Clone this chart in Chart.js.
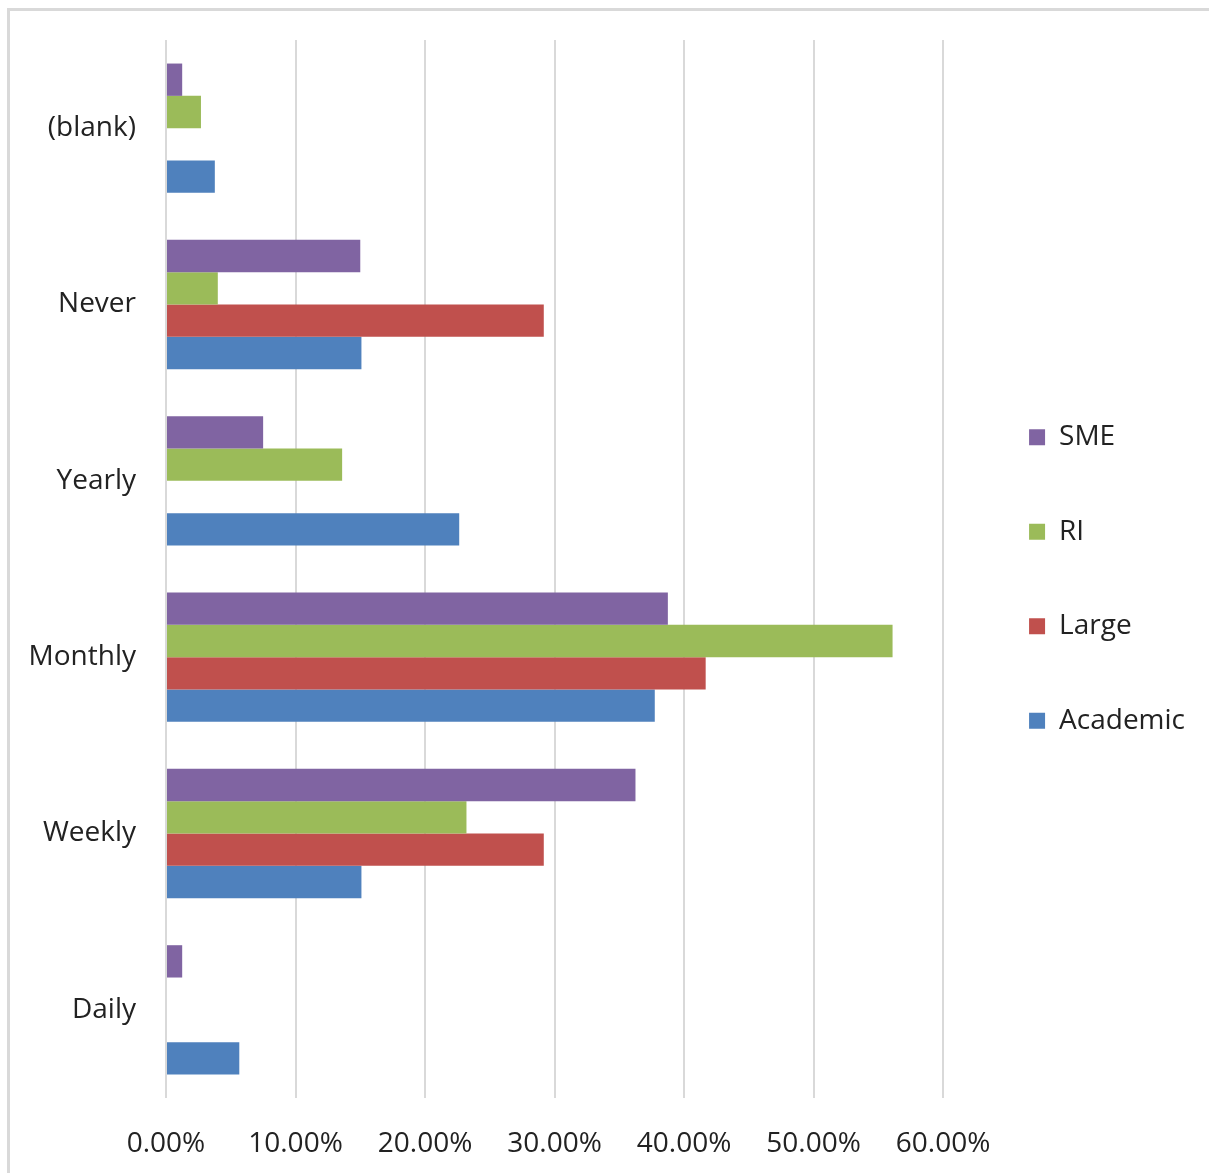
<!DOCTYPE html>
<html>
<head>
<meta charset="utf-8">
<script src="https://cdn.jsdelivr.net/npm/chart.js@4"></script>
<style>
  html, body { margin: 0; padding: 0; background: #fff; overflow: hidden; }
  #frame { position: absolute; left: 7px; top: 8px; width: 2000px; height: 2000px; border: 3px solid #d9d9d9; }
  #wrap { position: absolute; left: 0; top: 0; width: 1209px; height: 1173px; }
</style>
</head>
<body>
<div id="frame"></div>
<div id="wrap"><canvas id="chart"></canvas></div>
<script>
  const categories = ['(blank)', 'Never', 'Yearly', 'Monthly', 'Weekly', 'Daily'];
  const sme = [1.25, 15.0, 7.5, 38.75, 36.25, 1.25];
  const ri = [2.7, 4.0, 13.6, 56.1, 23.2, 0];
  const large = [0, 29.17, 0, 41.67, 29.17, 0];
  const academic = [3.77, 15.09, 22.64, 37.74, 15.09, 5.66];
  const xTicks = [0, 10, 20, 30, 40, 50, 60];

  const font = { family: '"Open Sans", sans-serif', size: 28 };
  const textColor = '#222';

  const ctx = document.getElementById('chart').getContext('2d');
  new Chart(ctx, {
      type: 'bar',
      data: {
          labels: categories,
          datasets: [
              { label: 'SME', data: sme, backgroundColor: '#8064A2' },
              { label: 'RI', data: ri, backgroundColor: '#9BBB59' },
              { label: 'Large', data: large, backgroundColor: '#C0504D' },
              { label: 'Academic', data: academic, backgroundColor: '#4F81BD' }
          ]
      },
      options: {
          indexAxis: 'y',
          responsive: true,
          maintainAspectRatio: false,
          animation: false,
          categoryPercentage: 0.733,
          barPercentage: 1,
          layout: { padding: { left: 0, top: 40, bottom: 15, right: 14 } },
          plugins: {
              legend: {
                  position: 'right',
                  fullSize: false,
                  maxWidth: 300,
                  title: { display: true, text: '', padding: { top: 0, bottom: 5.5 } },
                  labels: {
                      font: font,
                      color: textColor,
                      boxWidth: 16,
                      boxHeight: 16,
                      padding: 66.5
                  }
              },
              tooltip: { enabled: false }
          },
          scales: {
              x: {
                  min: 0,
                  max: 60,
                  afterBuildTicks: s => { s.ticks = xTicks.map(v => ({ value: v })); },
                  afterFit: s => { s.height = 60; },
                  ticks: {
                      font: font,
                      color: textColor,
                      padding: 29.5,
                      maxRotation: 0,
                      callback: v => v.toFixed(2) + '%'
                  },
                  grid: { color: '#d9d9d9', lineWidth: 2, drawTicks: false },
                  border: { display: false }
              },
              y: {
                  afterFit: s => {
                      s.width = 166;
                      s.paddingTop = 0;
                      s.paddingBottom = 0;
                  },
                  ticks: { font: font, color: textColor, padding: 30 },
                  grid: { display: false, drawTicks: false },
                  border: { display: false }
              },
              gap: {
                  type: 'category',
                  axis: 'y',
                  position: 'right',
                  afterFit: s => { s.width = 19.5; },
                  ticks: { display: false },
                  grid: { display: false, drawTicks: false },
                  border: { display: false }
              }
          }
      }
  });
</script>
</body>
</html>
